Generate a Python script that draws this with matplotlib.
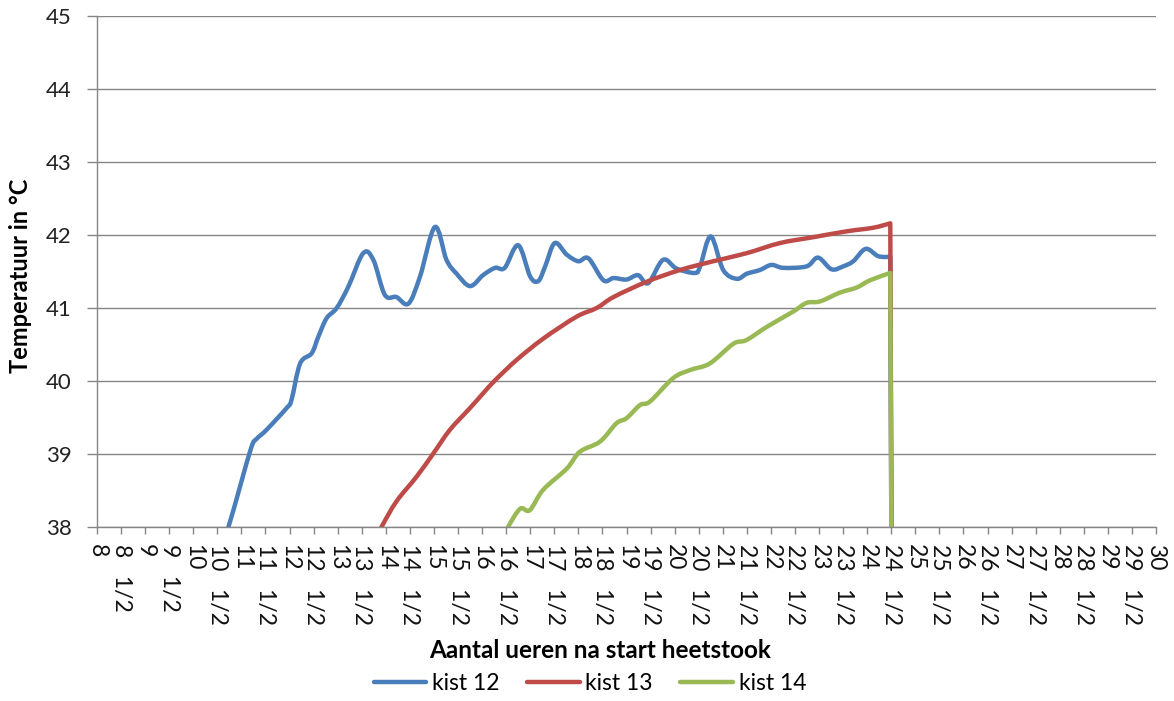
import matplotlib
matplotlib.use("Agg")
import matplotlib.pyplot as plt
from matplotlib.path import Path
from matplotlib.patches import PathPatch
from matplotlib.lines import Line2D
import numpy as np

# ---- data (hours after start, temperature °C) ----
k12_h = [10.60, 10.73, 10.97, 11.21, 11.32, 11.52, 11.94, 12.04, 12.22, 12.46, 12.60, 12.77, 12.98,
         13.22, 13.53, 13.74, 13.98, 14.22, 14.47, 14.71, 15.02, 15.26, 15.47, 15.75, 16.02,
         16.27, 16.47, 16.75, 17.00, 17.17, 17.31, 17.51, 17.76, 18.00, 18.21, 18.52, 18.73,
         19.00, 19.24, 19.45, 19.76, 20.04, 20.42, 20.53, 20.75, 21.01, 21.29, 21.50, 21.77,
         22.01, 22.26, 22.74, 22.98, 23.26, 23.50, 23.71, 23.97, 24.23, 24.48, 24.55]
k12_t = [37.80, 38.00, 38.55, 39.10, 39.21, 39.33, 39.63, 39.74, 40.24, 40.38, 40.61, 40.86, 41.00,
         41.29, 41.75, 41.66, 41.18, 41.15, 41.06, 41.43, 42.11, 41.66, 41.47, 41.30, 41.45,
         41.55, 41.55, 41.86, 41.43, 41.37, 41.57, 41.89, 41.73, 41.64, 41.68, 41.38, 41.41,
         41.39, 41.45, 41.34, 41.66, 41.54, 41.48, 41.57, 41.98, 41.52, 41.40, 41.47, 41.52,
         41.59, 41.55, 41.57, 41.69, 41.53, 41.57, 41.64, 41.81, 41.71, 41.70, 30.0]

k13_h = [13.80, 13.91, 14.22, 14.64, 14.99, 15.33, 15.75, 16.02, 16.27, 16.72, 17.27, 17.96,
         18.38, 18.73, 19.42, 20.11, 20.80, 21.49, 22.19, 22.88, 23.57, 24.13, 24.48, 24.55]
k13_t = [37.85, 38.00, 38.35, 38.69, 39.01, 39.33, 39.63, 39.83, 40.01, 40.29, 40.58, 40.88,
         41.00, 41.15, 41.36, 41.52, 41.64, 41.75, 41.89, 41.97, 42.05, 42.10, 42.16, 30.0]

k14_h = [16.45, 16.54, 16.79, 16.99, 17.27, 17.76, 18.03, 18.45, 18.79, 19.00, 19.28, 19.49,
         19.97, 20.32, 20.73, 21.22, 21.49, 21.91, 22.46, 22.74, 23.02, 23.43, 23.78, 24.06,
         24.48, 24.55]
k14_t = [37.85, 38.00, 38.25, 38.23, 38.51, 38.80, 39.03, 39.17, 39.42, 39.49, 39.67, 39.72,
         40.04, 40.15, 40.24, 40.51, 40.56, 40.74, 40.95, 41.07, 41.09, 41.21, 41.28, 41.38,
         41.48, 30.0]

x_ticks = [8 + 0.5 * i for i in range(45)]
x_labels = [(str(int(v)) if v == int(v) else f"{int(v)}   1/2") for v in x_ticks]
y_ticks = [38, 39, 40, 41, 42, 43, 44, 45]

series = [("kist 12", k12_h, k12_t, "#4A7EBB"),
          ("kist 13", k13_h, k13_t, "#BE4B48"),
          ("kist 14", k14_h, k14_t, "#98B954")]

plt.rcParams['font.family'] = ['Lato', 'DejaVu Sans']

LW = 3.2


def smooth_path(h, t):
    """Excel-style smoothed line: Catmull-Rom segments as cubic Beziers,
    with a straight final drop segment."""
    pts = np.column_stack([h, t])[:-1]
    n = len(pts)
    verts = [pts[0]]
    codes = [Path.MOVETO]
    for i in range(n - 1):
        p0 = pts[i - 1] if i > 0 else pts[i]
        p1 = pts[i]
        p2 = pts[i + 1]
        p3 = pts[i + 2] if i + 2 < n else pts[i + 1]
        c1 = p1 + (p2 - p0) / 6.0
        c2 = p2 - (p3 - p1) / 6.0
        verts += [c1, c2, p2]
        codes += [Path.CURVE4] * 3
    verts.append((h[-1], t[-1]))
    codes.append(Path.LINETO)
    return Path(verts, codes)


fig = plt.figure(figsize=(11.74, 7.01), dpi=100)
ax = fig.add_axes([97/1174, 1 - 527/701, (1156 - 97)/1174, (527 - 16)/701])

handles = []
for name, h, t, c in series:
    patch = PathPatch(smooth_path(h, t), facecolor='none', edgecolor=c, lw=LW,
                      joinstyle='round', capstyle='round')
    ax.add_patch(patch)
    handles.append(Line2D([], [], color=c, lw=LW, solid_capstyle='round', label=name))

ax.set_xlim(8, 30)
ax.set_ylim(38, 45)
ax.set_yticks(y_ticks)
ax.set_yticklabels([str(v) for v in y_ticks], fontsize=16, color='#222222')
ax.set_xticks(x_ticks)
ax.set_xticklabels(x_labels, rotation=270, fontsize=16.5, va='top', ha='center', color='#111111')

ax.grid(axis='y', color='#868686', lw=1.0)
ax.set_axisbelow(True)
for s in ['top', 'right']:
    ax.spines[s].set_visible(False)
for s in ['left', 'bottom']:
    ax.spines[s].set_color('#868686')
    ax.spines[s].set_linewidth(1.0)
ax.tick_params(axis='y', color='#868686', length=7, width=1, direction='out', pad=11)
ax.tick_params(axis='x', color='#868686', length=5, width=1, direction='out', pad=7)

fig.text(600/1174, 1 - 651/701, "Aantal ueren na start heetstook", ha='center', va='center',
         fontsize=17.5, fontweight='bold')
fig.text(21/1174, 1 - 276/701, "Temperatuur in °C", ha='center', va='center', rotation=90,
         fontsize=17, fontweight='bold')

fig.legend(handles=handles, loc='center', bbox_to_anchor=(590/1174, 1 - 684/701), ncol=3,
           frameon=False, fontsize=16.5, handlelength=2.3, columnspacing=1.2, handletextpad=0.25)

fig.savefig("out.png", dpi=100)
